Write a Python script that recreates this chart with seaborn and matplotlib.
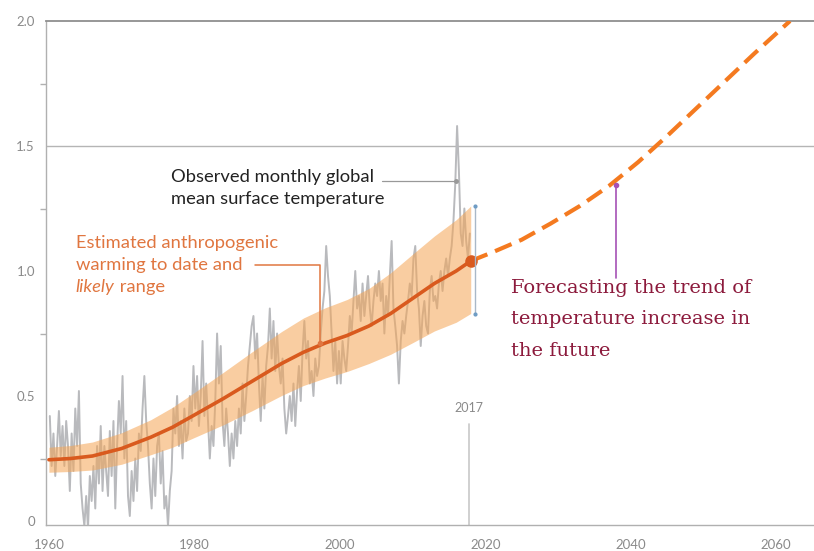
import matplotlib
matplotlib.use("Agg")
import matplotlib.pyplot as plt
import seaborn as sns
import numpy as np
import pandas as pd

# Observed global mean surface temperature (quarterly samples, °C above pre-industrial)
obs_start_year = 1960
obs_values = [
    0.42, 0.22, 0.35, 0.18,   # 1960
    0.30, 0.44, 0.26, 0.38,   # 1961
    0.22, 0.40, 0.30, 0.12,   # 1962
    0.35, 0.20, 0.45, 0.30,   # 1963
    0.52, 0.15, 0.05, -0.02,  # 1964
    0.10, -0.03, 0.18, 0.08,  # 1965
    0.22, 0.05, 0.30, 0.15,   # 1966
    0.38, 0.12, 0.30, 0.20,   # 1967
    0.10, 0.36, 0.18, 0.40,   # 1968
    0.05, 0.30, 0.48, 0.35,   # 1969
    0.58, 0.25, 0.40, 0.10,   # 1970
    0.02, 0.20, 0.08, 0.25,   # 1971
    0.12, 0.35, 0.28, 0.45,   # 1972
    0.58, 0.40, 0.30, 0.15,   # 1973
    0.05, 0.25, 0.10, 0.30,   # 1974
    0.35, 0.15, 0.28, 0.05,   # 1975
    0.10, -0.02, 0.12, 0.20,  # 1976
    0.45, 0.35, 0.50, 0.30,   # 1977
    0.40, 0.25, 0.45, 0.32,   # 1978
    0.35, 0.50, 0.40, 0.62,   # 1979
    0.45, 0.58, 0.38, 0.50,   # 1980
    0.72, 0.42, 0.55, 0.40,   # 1981
    0.25, 0.38, 0.30, 0.48,   # 1982
    0.75, 0.55, 0.70, 0.40,   # 1983
    0.30, 0.45, 0.35, 0.22,   # 1984
    0.35, 0.25, 0.40, 0.30,   # 1985
    0.45, 0.35, 0.55, 0.40,   # 1986
    0.50, 0.62, 0.70, 0.78,   # 1987
    0.82, 0.65, 0.75, 0.55,   # 1988
    0.40, 0.58, 0.45, 0.62,   # 1989
    0.70, 0.85, 0.65, 0.80,   # 1990
    0.60, 0.75, 0.62, 0.55,   # 1991
    0.65, 0.45, 0.35, 0.42,   # 1992
    0.50, 0.40, 0.55, 0.38,   # 1993
    0.52, 0.62, 0.48, 0.68,   # 1994
    0.80, 0.65, 0.72, 0.55,   # 1995
    0.60, 0.50, 0.65, 0.58,   # 1996
    0.62, 0.75, 0.85, 0.92,   # 1997
    1.10, 0.98, 0.90, 0.75,   # 1998
    0.60, 0.72, 0.55, 0.68,   # 1999
    0.55, 0.72, 0.65, 0.60,   # 2000
    0.70, 0.82, 0.75, 0.88,   # 2001
    1.00, 0.85, 0.90, 0.80,   # 2002
    0.95, 0.82, 0.90, 0.98,   # 2003
    0.85, 0.78, 0.88, 0.95,   # 2004
    0.90, 1.00, 0.88, 0.95,   # 2005
    0.75, 0.90, 0.82, 0.98,   # 2006
    1.12, 0.85, 0.78, 0.70,   # 2007
    0.55, 0.72, 0.80, 0.75,   # 2008
    0.82, 0.88, 0.95, 0.90,   # 2009
    1.05, 1.10, 0.92, 0.85,   # 2010
    0.70, 0.82, 0.88, 0.78,   # 2011
    0.75, 0.92, 0.98, 0.88,   # 2012
    0.90, 0.85, 0.95, 1.00,   # 2013
    0.92, 1.00, 1.05, 0.98,   # 2014
    1.05, 1.10, 1.20, 1.35,   # 2015
    1.58, 1.40, 1.15, 1.10,   # 2016
    1.25, 1.12, 1.05, 1.15,   # 2017
]

# Estimated anthropogenic warming and its likely range
trend_years = [1960, 1963, 1966, 1970, 1974, 1977, 1980, 1984, 1988, 1992,
               1995, 1998, 2001, 2004, 2007, 2010, 2013, 2016, 2018]
trend_values = [0.245, 0.25, 0.26, 0.29, 0.335, 0.375, 0.424, 0.49, 0.56, 0.63,
                0.675, 0.712, 0.742, 0.78, 0.83, 0.89, 0.95, 1.00, 1.04]
range_upper = [0.295, 0.302, 0.316, 0.353, 0.405, 0.455, 0.514, 0.595, 0.678, 0.758,
               0.812, 0.853, 0.886, 0.93, 0.993, 1.067, 1.14, 1.205, 1.26]
range_lower = [0.195, 0.198, 0.204, 0.227, 0.265, 0.295, 0.334, 0.385, 0.442, 0.502,
               0.542, 0.572, 0.598, 0.63, 0.667, 0.713, 0.76, 0.795, 0.83]

# Projected continuation of the trend
forecast_years = [2018, 2021, 2025, 2029, 2033, 2037, 2041, 2045, 2049, 2053, 2057, 2061.9]
forecast_values = [1.04, 1.075, 1.125, 1.19, 1.26, 1.34, 1.435, 1.54, 1.65, 1.76, 1.87, 2.0]

x_ticks = [1960, 1980, 2000, 2020, 2040, 2060]
y_ticks = [0, 0.5, 1.0, 1.5, 2.0]
y_tick_labels = ["0", "0.5", "1.0", "1.5", "2.0"]

obs_df = pd.DataFrame({
    "year": obs_start_year + 0.125 + np.arange(len(obs_values)) / 4.0,
    "temp": obs_values,
})
trend_df = pd.DataFrame({"year": trend_years, "temp": trend_values,
                         "lo": range_lower, "hi": range_upper})
forecast_df = pd.DataFrame({"year": forecast_years, "temp": forecast_values})

sns.set_theme(style="white")
plt.rcParams["font.family"] = ["Lato", "DejaVu Sans"]

fig = plt.figure(figsize=(8.14, 5.51), dpi=100)
ax = fig.add_axes([46 / 814, 1 - 525 / 551, 1 - 46 / 814, (525 - 21) / 551])

grey = "#b9babd"
trend_orange = "#d95a1e"
band_orange = "#f5a555"
forecast_orange = "#f47a20"

# Reference line at 1.5 °C
ax.axhline(1.5, color="#b5b5b5", lw=1.0, zorder=1)

# Observed series
sns.lineplot(data=obs_df, x="year", y="temp", ax=ax, color=grey, lw=1.4,
             zorder=2, legend=False)

# Likely range band
ax.fill_between(trend_df["year"], trend_df["lo"], trend_df["hi"],
                color=band_orange, alpha=0.55, lw=0, zorder=3)

# Anthropogenic warming trend
sns.lineplot(data=trend_df, x="year", y="temp", ax=ax, color=trend_orange,
             lw=2.6, zorder=4, legend=False)
ax.plot(trend_years[-1], trend_values[-1], "o", color=trend_orange, ms=8, zorder=5)

# Forecast
sns.lineplot(data=forecast_df, x="year", y="temp", ax=ax, color=forecast_orange,
             lw=3.0, zorder=4, legend=False)
ax.lines[-1].set_dashes([4.3, 2.0])

# Likely range marker at the end of the record
ax.plot([2018.6, 2018.6], [range_lower[-1], range_upper[-1]], color="#a9b8c8",
        lw=1.0, zorder=5)
ax.plot([2018.6, 2018.6], [range_lower[-1], range_upper[-1]], "o",
        color="#6f9cc4", ms=2, zorder=5)

# 2017 marker
ax.plot([2017.7, 2017.7], [-0.02, 0.39], color="#c8c8c8", lw=1.2, zorder=2)
ax.text(2017.7, 0.452, "2017", ha="center", va="center", fontsize=9, color="#8a8a8a")

# Annotation: observed series
sans_size = 13.2
ax.text(1976.8, 1.357, "Observed monthly global", ha="left", va="baseline",
        fontsize=sans_size, color="#222222")
ax.text(1976.8, 1.267, "mean surface temperature", ha="left", va="baseline",
        fontsize=sans_size, color="#222222")
ax.plot([2005.8, 2016.0], [1.36, 1.36], color="#999999", lw=0.9, zorder=5)
ax.plot(2016.0, 1.36, "o", color="#999999", ms=2.5, zorder=5)

# Annotation: anthropogenic warming
anno_color = "#e07640"
ax.text(1963.7, 1.093, "Estimated anthropogenic", ha="left", va="baseline",
        fontsize=sans_size, color=anno_color)
ax.text(1963.7, 1.004, "warming to date and", ha="left", va="baseline",
        fontsize=sans_size, color=anno_color)
t_likely = ax.text(1963.7, 0.916, "likely", ha="left", va="baseline",
                   fontsize=sans_size, color=anno_color, style="italic")
ax.annotate(" range", xy=(1, 0), xycoords=t_likely, ha="left", va="bottom",
            fontsize=sans_size, color=anno_color)
ax.plot([1988.3, 1997.3, 1997.3], [1.024, 1.024, 0.712], color=anno_color,
        lw=1.1, zorder=6)
ax.plot(1997.3, 0.712, "o", color=anno_color, ms=3, zorder=6)

# Annotation: forecast
ax.plot([2038.0, 2038.0], [0.972, 1.344], color="#a552b5", lw=1.2, zorder=6)
ax.plot(2038.0, 1.344, "o", color="#a552b5", ms=3, zorder=6)
serif_lines = ["Forecasting the trend of", "temperature increase in", "the future"]
serif_baselines = [0.911, 0.788, 0.660]
for line, yb in zip(serif_lines, serif_baselines):
    ax.text(2023.5, yb, line, ha="left", va="baseline", fontsize=14,
            color="#8c1a3c", family=["DejaVu Serif"])

ax.set_xlim(1959.6, 2065.2)
ax.set_ylim(-0.016, 2.0)
ax.set_xticks(x_ticks)
ax.set_yticks(y_ticks)
ax.set_yticklabels(y_tick_labels)
ax.set_yticks([0.25, 0.75, 1.25, 1.75], minor=True)
ax.set_xlabel("")
ax.set_ylabel("")

for side in ["left", "bottom", "top"]:
    ax.spines[side].set_visible(True)
    ax.spines[side].set_color("#b0b0b0")
    ax.spines[side].set_linewidth(1.0)
ax.spines["top"].set_color("#8f8f8f")
ax.spines["top"].set_linewidth(1.3)
ax.spines["right"].set_visible(False)

ax.tick_params(axis="both", which="both", direction="out", color="#b0b0b0",
               labelcolor="#8a8a8a", labelsize=9.5, width=1.0)
ax.tick_params(axis="y", which="major", length=4, pad=4)
ax.tick_params(axis="y", which="minor", length=4, left=True)
ax.tick_params(axis="x", which="major", length=5, pad=5)

fig.savefig("out.png", dpi=100)
